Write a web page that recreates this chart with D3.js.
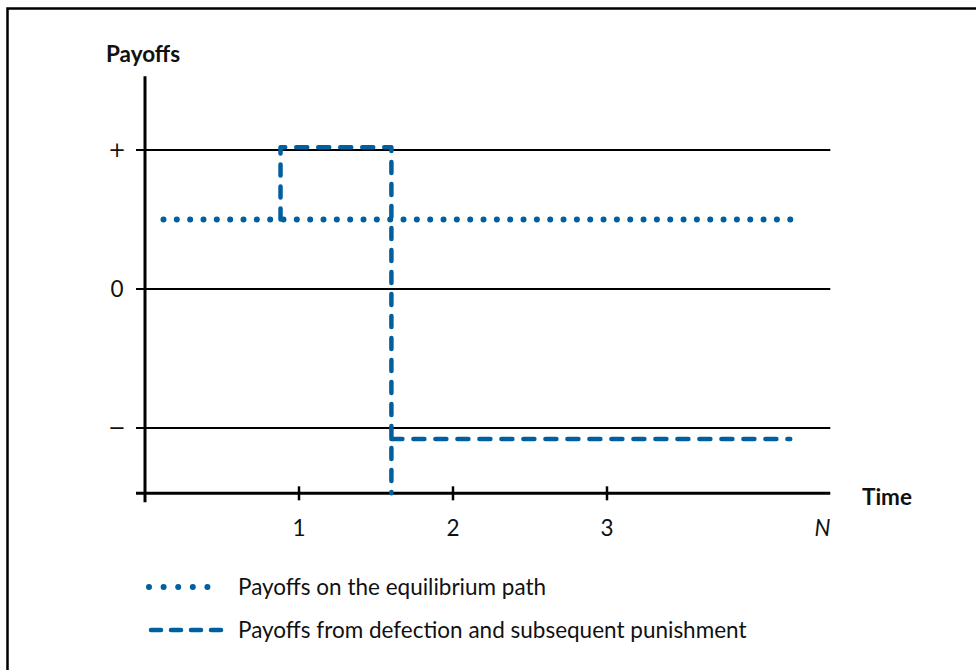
<!DOCTYPE html>
<html>
<head>
<meta charset="utf-8">
<script src="https://cdn.jsdelivr.net/npm/d3@7"></script>
<style>
  body { margin: 0; background: #fff; }
  svg text { font-family: "Lato", "Open Sans", sans-serif; fill: #111; }
</style>
</head>
<body>
<svg id="chart"></svg>
<script>
  // Valeurs (temps, niveau de gain)
  var yTicks = [1, 0, -1];
  var yTickLabels = ["+", "0", "\u2212"];
  var xTicks = [0, 1, 2, 3];
  var xTickLabels = ["", "1", "2", "3"];
  var nValue = 4.4;

  var equilibriumPath = [[0.12, 0.5], [4.19, 0.5]];
  var defectionPath = [[0.88, 0.5], [0.88, 1.02], [1.6, 1.02], [1.6, -1.47]];
  var punishmentPath = [[1.6, -1.08], [4.19, -1.08]];

  var legendLabels = ["Payoffs on the equilibrium path",
    "Payoffs from defection and subsequent punishment"];

  var width = 976, height = 670;
  var blue = "#005f9e";
  var fontSize = "22.5px";

  var svg = d3.select("#chart").attr("width", width).attr("height", height);

  // cadre
  svg.append("path")
    .attr("d", "M7.5,670 V8.5 H976")
    .attr("fill", "none").attr("stroke", "#000").attr("stroke-width", 2.5);

  var x = d3.scaleLinear().domain([0, 1]).range([145, 299]);
  var y = d3.scaleLinear().domain([0, 1]).range([289, 150]);
  var xMax = 4.45, yMin = -1.47, yMax = 1.53;

  // lignes de la grille
  svg.selectAll(".grid").data(yTicks).enter().append("line")
    .attr("x1", x(0) - 9).attr("x2", x(xMax))
    .attr("y1", function (d) { return y(d); })
    .attr("y2", function (d) { return y(d); })
    .attr("stroke", "#000").attr("stroke-width", 2);

  svg.selectAll(".ylab").data(yTicks).enter().append("text")
    .attr("x", 117).attr("y", function (d) { return y(d); })
    .attr("dy", "0.35em").attr("text-anchor", "middle")
    .style("font-family", function (d) { return d === 0 ? null : "DejaVu Sans"; })
    .style("font-size", function (d) { return d === 0 ? fontSize : "21px"; })
    .text(function (d, i) { return yTickLabels[i]; });

  // axes
  svg.append("line")
    .attr("x1", x(0)).attr("x2", x(0)).attr("y1", y(yMax)).attr("y2", y(yMin) + 9)
    .attr("stroke", "#000").attr("stroke-width", 3);
  svg.append("line")
    .attr("x1", x(0) - 9).attr("x2", x(xMax)).attr("y1", y(yMin)).attr("y2", y(yMin))
    .attr("stroke", "#000").attr("stroke-width", 3);

  svg.selectAll(".xtick").data(xTicks.slice(1)).enter().append("line")
    .attr("x1", function (d) { return x(d); })
    .attr("x2", function (d) { return x(d); })
    .attr("y1", y(yMin) - 7).attr("y2", y(yMin) + 7)
    .attr("stroke", "#000").attr("stroke-width", 2.5);

  svg.selectAll(".xlab").data(xTicks).enter().append("text")
    .attr("x", function (d) { return x(d); }).attr("y", 536)
    .attr("text-anchor", "middle").style("font-size", fontSize)
    .text(function (d, i) { return xTickLabels[i]; });

  svg.append("text")
    .attr("x", x(nValue)).attr("y", 536).attr("text-anchor", "middle")
    .style("font-size", fontSize).style("font-style", "italic")
    .text("N");

  svg.append("text")
    .attr("x", 862).attr("y", 505).style("font-size", fontSize).style("font-weight", "bold")
    .text("Time");
  svg.append("text")
    .attr("x", 106).attr("y", 62).style("font-size", fontSize).style("font-weight", "bold")
    .text("Payoffs");

  var line = d3.line()
    .x(function (d) { return x(d[0]); })
    .y(function (d) { return y(d[1]); });

  // pointillé dont l'espacement tombe juste aux deux bouts
  function dotted(sel, step) {
    sel.attr("fill", "none").attr("stroke", blue).attr("stroke-width", 6)
      .attr("stroke-linecap", "round")
      .attr("stroke-dasharray", function () {
        var len = this.getTotalLength();
        return "0," + (len / Math.round(len / step));
      });
  }
  function dashed(sel) {
    sel.attr("fill", "none").attr("stroke", blue).attr("stroke-width", 4.5)
      .attr("stroke-linecap", "round").attr("stroke-linejoin", "round")
      .attr("stroke-dasharray", "11,11");
  }

  svg.append("path").datum(equilibriumPath).attr("d", line).call(dotted, 13.4);
  svg.append("path").datum(defectionPath).attr("d", line).call(dashed);
  svg.append("path").datum(punishmentPath).attr("d", line).call(dashed);

  // légende
  var legend = svg.append("g");
  legend.append("line").attr("x1", 149).attr("x2", 222).attr("y1", 587).attr("y2", 587)
    .call(dotted, 14.6);
  legend.append("line").attr("x1", 151).attr("x2", 221).attr("y1", 630).attr("y2", 630).call(dashed)
    .attr("stroke-dasharray", "10,10");
  legend.selectAll("text").data(legendLabels).enter().append("text")
    .attr("x", 238).attr("y", function (d, i) { return 587 + i * 43; })
    .attr("dy", "0.35em").style("font-size", fontSize)
    .text(function (d) { return d; });
</script>
</body>
</html>
